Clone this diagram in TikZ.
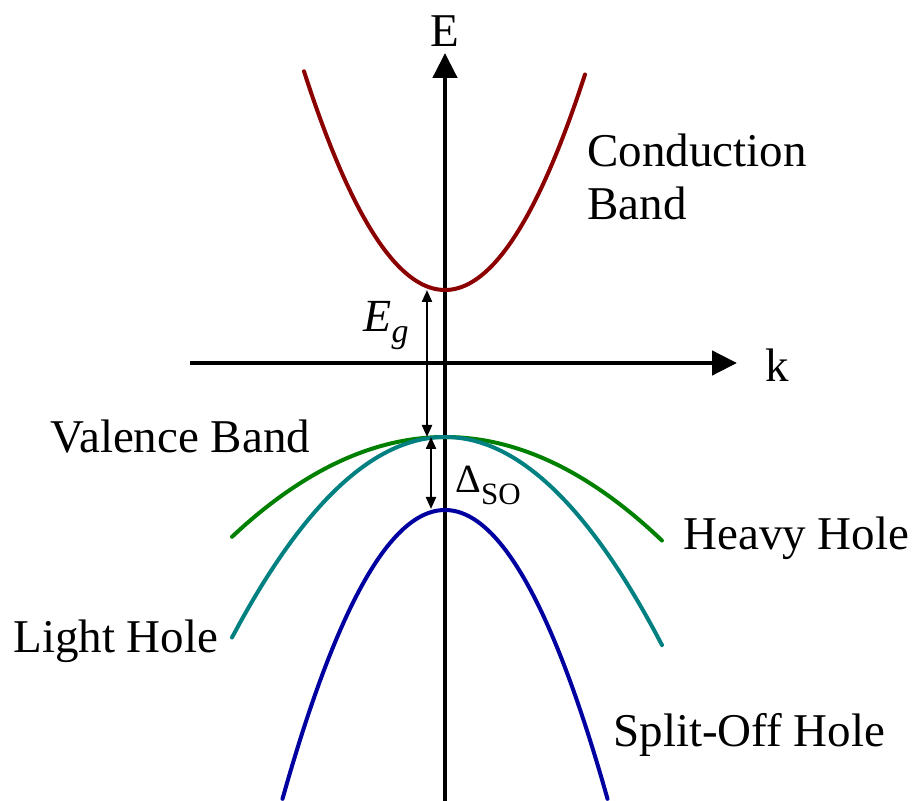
\documentclass[tikz,border=0pt]{standalone}
\usepackage{fontspec}
\setmainfont{Liberation Serif}[Ligatures=TeX]
\newfontfamily\bandfont{Liberation Serif}
\usepackage{tikz}
\usetikzlibrary{arrows.meta}

\definecolor{cbred}{RGB}{139,0,0}
\definecolor{hhgreen}{RGB}{0,128,0}
\definecolor{lhteal}{RGB}{0,128,128}
\definecolor{soblue}{RGB}{0,0,160}

\begin{document}
\begin{tikzpicture}[x=0.5pt, y=-0.5pt,
  lbl/.style={inner sep=0pt, anchor=base west, font=\bandfont\fontsize{23.5}{26}\selectfont},
  axis/.style={line width=2.3pt, -{Triangle[length=12.5pt, width=12pt]}},
  band/.style={line width=2pt, line cap=round, smooth, samples=60},
  gap/.style={line width=1.1pt, {Triangle[length=6pt, width=5pt]}-{Triangle[length=6pt, width=5pt]}}]
  \useasboundingbox (0,0) rectangle (916,801);
  \def\kz{445}
  % axes
  \coordinate (ebot) at (\kz,801);
  \coordinate (etop) at (\kz,53);
  \coordinate (kleft) at (190,363);
  \coordinate (kright) at (737,363);
  \draw[axis] (ebot) -- (etop);
  \draw[axis] (kleft) -- (kright);
  \node[lbl, anchor=base] (elbl) at (\kz,47) {E};
  \node[lbl] (klbl) at (765,382) {k};
  % bands, E = E0 + c*t^2 with t = (x-\kz)/100
  \draw[band, cbred]   plot[domain=-1.41:1.40]   ({\kz+100*\x}, {290-110*\x*\x});
  \draw[band, hhgreen] plot[domain=-2.13:2.17]   ({\kz+100*\x}, {437+22*\x*\x});
  \draw[band, lhteal]  plot[domain=-2.13:2.17]   ({\kz+100*\x}, {437+44.2*\x*\x});
  \draw[band, soblue]  plot[domain=-1.625:1.625] ({\kz+100*\x}, {510+109.4*\x*\x});
  % gaps
  \coordinate (cbmin) at (427,290);
  \coordinate (vbmax) at (427,437);
  \coordinate (vbtop) at (431,437);
  \coordinate (somax) at (431,509);
  \draw[gap] (cbmin) -- (vbmax);
  \draw[gap] (vbtop) -- (somax);
  \node[inner sep=0pt, anchor=base west] (eg) at (363,332)
    {\bandfont\fontsize{23}{23}\selectfont\itshape E\raisebox{-5.5pt}{\fontsize{17}{17}\selectfont g}};
  \node[inner sep=0pt, anchor=base west] (dso) at (455,493)
    {\bandfont\fontsize{20}{20}\selectfont Δ\raisebox{-6pt}{\fontsize{15.5}{15.5}\selectfont SO}};
  % labels
  \node[lbl] (cond) at (587,167) {Conduction};
  \node[lbl] (condb) at (587,220) {Band};
  \node[lbl] (val) at (50,453) {Valence Band};
  \node[lbl] (hh) at (683,550) {Heavy Hole};
  \node[lbl] (lh) at (13,653) {Light Hole};
  \node[lbl] (so) at (613,747) {Split-Off Hole};
\end{tikzpicture}
\end{document}
